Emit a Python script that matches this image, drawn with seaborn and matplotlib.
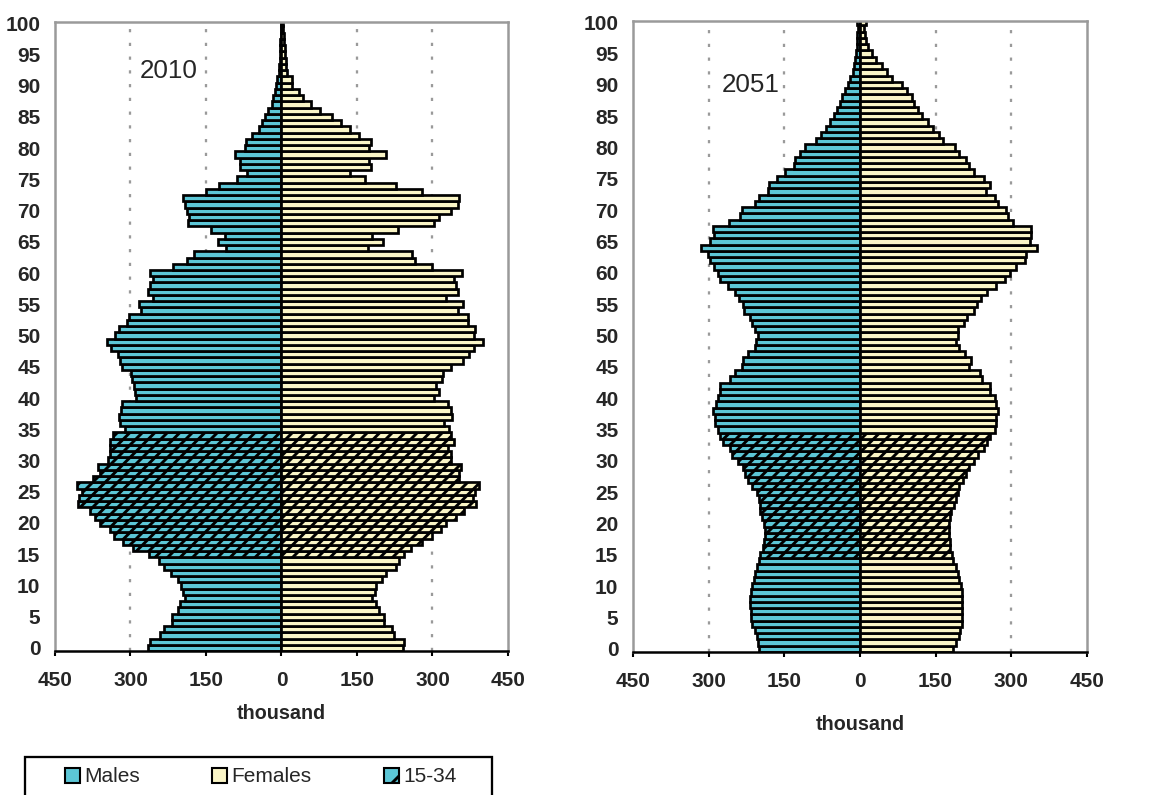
import numpy as np
import pandas as pd
import seaborn as sns
import matplotlib.pyplot as plt
from matplotlib.patches import Patch, Rectangle
from matplotlib.ticker import FuncFormatter

# single years of age, 0..100; values in thousand
ages = list(range(101))

males_2010 = [266, 261, 241, 234, 218, 218, 205, 201, 191, 195,
              199, 206, 219, 234, 244, 264, 294, 314, 332, 341,
              361, 371, 380, 404, 402, 397, 407, 374, 361, 364,
              344, 341, 341, 341, 334, 311, 321, 323, 319, 317,
              290, 291, 292, 296, 299, 317, 321, 324, 339, 347,
              331, 322, 307, 302, 279, 284, 256, 266, 261, 256,
              261, 216, 188, 173, 110, 126, 112, 141, 185, 183,
              188, 191, 195, 150, 124, 88, 68, 82, 82, 93,
              73, 70, 58, 45, 39, 32, 27, 19, 17, 13,
              11, 9, 5, 4, 3, 3, 2, 2, 1, 1, 1]
females_2010 = [242, 244, 224, 220, 204, 204, 194, 187, 179, 186,
                187, 199, 207, 227, 234, 244, 257, 280, 300, 317,
                327, 347, 363, 386, 380, 385, 393, 353, 353, 357,
                337, 337, 330, 343, 337, 333, 323, 339, 337, 330,
                303, 313, 307, 319, 320, 337, 360, 372, 383, 401,
                383, 384, 371, 370, 350, 361, 327, 350, 347, 343,
                359, 300, 266, 260, 171, 202, 179, 232, 303, 313,
                337, 350, 353, 279, 227, 166, 137, 177, 173, 208,
                174, 177, 154, 136, 118, 100, 76, 58, 43, 35,
                21, 20, 11, 9, 8, 6, 6, 5, 5, 4, 3]
males_2051 = [201, 203, 205, 209, 214, 216, 216, 218, 218, 216,
              214, 211, 208, 205, 201, 198, 193, 191, 189, 188,
              191, 195, 198, 198, 201, 205, 214, 222, 227, 231,
              241, 253, 258, 271, 278, 282, 288, 288, 291, 286,
              282, 278, 278, 258, 248, 233, 231, 222, 209, 207,
              203, 209, 214, 218, 229, 232, 239, 248, 262, 278,
              282, 289, 297, 302, 315, 297, 289, 291, 260, 238,
              234, 209, 201, 183, 181, 165, 149, 131, 128, 118,
              108, 87, 78, 68, 60, 52, 45, 39, 35, 29,
              23, 19, 14, 12, 10, 7, 5, 5, 5, 3, 5]
females_2051 = [185, 190, 196, 199, 203, 203, 203, 203, 203, 203,
                201, 197, 194, 190, 185, 183, 179, 179, 177, 177,
                177, 179, 181, 187, 190, 194, 197, 204, 210, 217,
                227, 234, 245, 252, 258, 267, 269, 270, 274, 269,
                267, 258, 258, 242, 237, 217, 220, 209, 197, 190,
                194, 194, 207, 212, 227, 232, 240, 252, 270, 287,
                297, 310, 327, 330, 351, 338, 340, 340, 303, 293,
                290, 274, 267, 250, 257, 245, 227, 216, 210, 197,
                189, 164, 157, 144, 134, 123, 116, 108, 104, 94,
                83, 64, 54, 43, 31, 23, 15, 11, 10, 8, 11]

years = ['2010', '2051']
sexes = ['Males', 'Females']
band_label = '15-34'
band = (15, 34)
xticks = [-450, -300, -150, 0, 150, 300, 450]
grid_at = [-300, -150, 150, 300]

male_col = '#5CC6D6'
female_col = '#FAF5C6'

sns.set_theme(style='white')
plt.rcParams['font.family'] = ['Liberation Sans', 'DejaVu Sans']
plt.rcParams['hatch.linewidth'] = 1.4
tick_fs = 10


def make_df(m, f):
    return pd.concat([
        pd.DataFrame({'age': ages, 'value': [-v for v in m], 'sex': 'Males'}),
        pd.DataFrame({'age': ages, 'value': f, 'sex': 'Females'}),
    ])


fig = plt.figure(figsize=(1167 / 150, 795 / 150), dpi=150)
ax1 = fig.add_axes([0.0471, 0.1811, 0.3882, 0.7912])
ax2 = fig.add_axes([0.5424, 0.1799, 0.3890, 0.7937])

panels = [(ax1, make_df(males_2010, females_2010), years[0], (-225, 92.3), 6.5),
          (ax2, make_df(males_2051, females_2051), years[1], (-216, 90.0), 11.5)]

for ax, df, yr, pos, lpad in panels:
    for g in grid_at:
        ax.axvline(g, color='#9a9a9a', lw=1.1, ls=(0, (1.4, 4.6)), zorder=0.5)
    sns.barplot(data=df, x='value', y='age', hue='sex', orient='y',
                native_scale=True, dodge=False, width=1.0,
                palette={'Males': male_col, 'Females': female_col},
                saturation=1, edgecolor='black', linewidth=1.3,
                errorbar=None, legend=False, ax=ax)
    # 15-34 age band is hatched
    for p in ax.patches:
        yc = p.get_y() + p.get_height() / 2
        if band[0] <= round(yc) <= band[1]:
            p.set_hatch('////')
    ax.set_xlim(-450, 450)
    ax.set_ylim(-0.5, 100.2)
    ax.set_xticks(xticks)
    ax.xaxis.set_major_formatter(FuncFormatter(lambda v, _: f'{abs(v):.0f}'))
    ax.set_yticks(range(0, 101, 5))
    ax.tick_params(axis='y', length=0, pad=7, labelsize=tick_fs)
    ax.tick_params(axis='x', bottom=True, direction='out', length=2.2,
                   width=1.0, color='black', pad=7.5, labelsize=tick_fs)
    for lab in ax.get_xticklabels() + ax.get_yticklabels():
        lab.set_fontweight('bold')
    ax.set_ylabel('')
    ax.set_xlabel('thousand', fontsize=tick_fs - 0.5, fontweight='bold',
                  labelpad=lpad)
    for s in ['top', 'left', 'right']:
        ax.spines[s].set_color('#9a9a9a')
        ax.spines[s].set_linewidth(1.2)
    ax.spines['bottom'].set_color('black')
    ax.spines['bottom'].set_linewidth(1.2)
    ax.text(pos[0], pos[1], yr, ha='center', va='center', fontsize=12.5)

# legend box (runs off the bottom edge like the original)
fig.patches.append(Rectangle((25 / 1167, -0.05), 467 / 1167, 0.05 + 1 - 757 / 795,
                             transform=fig.transFigure, fill=False,
                             edgecolor='black', lw=1.1))
handles = [Patch(facecolor=male_col, edgecolor='black', lw=1.0),
           Patch(facecolor=female_col, edgecolor='black', lw=1.0),
           Patch(facecolor=male_col, edgecolor='black', lw=1.0, hatch='//')]
fig.legend(handles, sexes + [band_label], loc='center left',
           bbox_to_anchor=(65 / 1167, 1 - 777 / 795), ncol=3, frameon=False,
           handlelength=0.7, handleheight=0.7, handletextpad=0.2,
           columnspacing=3.5, borderpad=0, borderaxespad=0, fontsize=tick_fs)

fig.savefig('out.png', dpi=150)
